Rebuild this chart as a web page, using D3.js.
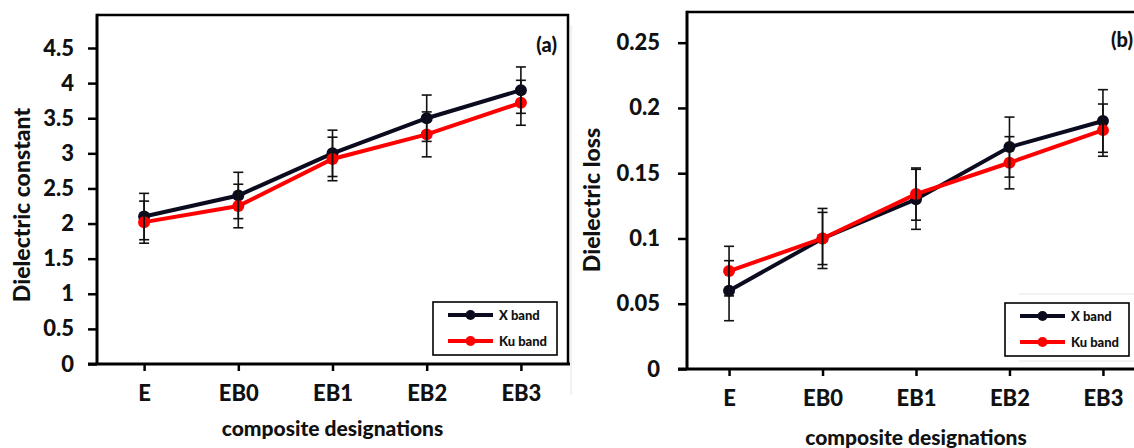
<!DOCTYPE html>
<html>
<head>
<meta charset="utf-8">
<script src="https://cdn.jsdelivr.net/npm/d3@7"></script>
<style>
	body { margin: 0; background: #fff; }
	text { font-family: Lato, "Open Sans", sans-serif; font-weight: 900; fill: #111; }
</style>
</head>
<body>
<div id="chart"></div>
<script>
// categories shared by both panels
var categories = ["E", "EB0", "EB1", "EB2", "EB3"];
var seriesNames = ["X band", "Ku band"];

// panel (a) dielectric constant
var constX = [2.1, 2.4, 3.0, 3.5, 3.9];
var constXErr = [0.33, 0.33, 0.33, 0.33, 0.33];
var constKu = [2.02, 2.25, 2.92, 3.27, 3.72];
var constKuErr = [0.3, 0.31, 0.31, 0.32, 0.32];
var constTicks = [0, 0.5, 1, 1.5, 2, 2.5, 3, 3.5, 4, 4.5];

// panel (b) dielectric loss
var lossX = [0.06, 0.1, 0.13, 0.17, 0.19];
var lossXErr = [0.023, 0.023, 0.023, 0.023, 0.024];
var lossKu = [0.075, 0.1, 0.134, 0.158, 0.183];
var lossKuErr = [0.019, 0.02, 0.02, 0.02, 0.02];
var lossTicks = [0, 0.05, 0.1, 0.15, 0.2, 0.25];

var colors = ["#0b0b20", "#ff0000"];

var width = 1134, height = 448;

var svg = d3.select('#chart').append('svg')
	.attr('width', width)
	.attr('height', height);

// faint separator seen between the two panels
svg.append('line')
	.attr('x1', 571).attr('x2', 571)
	.attr('y1', 25).attr('y2', 395)
	.attr('stroke', '#e4e4e4').attr('stroke-width', 1);

function drawPanel(p) {
	var g = svg.append('g');

	var x = d3.scalePoint()
		.domain(categories)
		.range([p.left, p.right])
		.padding(p.pad);

	var y = d3.scaleLinear()
		.domain([0, p.yMax])
		.range([p.bottom, p.top]);

	// plot frame (top and right)
	g.append('path')
		.attr('d', 'M' + p.left + ',' + p.top + 'H' + p.frameRight + 'V' + p.bottom)
		.attr('fill', 'none')
		.attr('stroke', '#000')
		.attr('stroke-width', 2.5);

	// y axis
	var yAxis = d3.axisLeft(y)
		.tickValues(p.ticks)
		.tickSize(9)
		.tickPadding(p.tickPad)
		.tickFormat(function(d) { return String(+d.toFixed(3)); });

	var ya = g.append('g')
		.attr('transform', 'translate(' + p.left + ',0)')
		.call(yAxis);
	ya.select('.domain').remove();
	ya.selectAll('.tick line').attr('stroke', '#000').attr('stroke-width', 2.5);
	ya.selectAll('.tick text').style('font-size', '22px').attr('fill', '#111');
	g.append('line')
		.attr('x1', p.left).attr('x2', p.left)
		.attr('y1', p.top - 1.2).attr('y2', p.bottom)
		.attr('stroke', '#000').attr('stroke-width', 3);

	// x axis
	var xAxis = d3.axisBottom(x)
		.tickSize(7)
		.tickPadding(14);
	var xa = g.append('g')
		.attr('transform', 'translate(0,' + p.bottom + ')')
		.call(xAxis);
	xa.select('.domain').remove();
	xa.selectAll('.tick line').attr('stroke', '#000').attr('stroke-width', 2.5);
	xa.selectAll('.tick text').style('font-size', '22px').attr('fill', '#111');
	g.append('line')
		.attr('x1', p.left - 9).attr('x2', p.axisRight)
		.attr('y1', p.bottom).attr('y2', p.bottom)
		.attr('stroke', '#000').attr('stroke-width', 3);

	// axis titles
	g.append('text')
		.attr('transform', 'translate(' + p.yTitleX + ',' + p.yTitleY + ') rotate(-90)')
		.attr('text-anchor', 'middle')
		.style('font-size', '23px')
		.text(p.yTitle);

	g.append('text')
		.attr('x', x(categories[2]))
		.attr('y', p.xTitleY)
		.attr('text-anchor', 'middle')
		.style('font-size', '21px')
		.text('composite designations');

	// panel tag
	g.append('text')
		.attr('x', p.tagX)
		.attr('y', p.tagY)
		.attr('text-anchor', 'end')
		.style('font-size', '20px')
		.text(p.tag);

	var line = d3.line()
		.x(function(d, i) { return x(categories[i]); })
		.y(function(d) { return y(d); });

	p.series.forEach(function(s, k) {
		g.append('path')
			.datum(s.values)
			.attr('d', line)
			.attr('fill', 'none')
			.attr('stroke', colors[k])
			.attr('stroke-width', 4);

		g.selectAll('.dot' + k)
			.data(s.values)
			.enter().append('circle')
			.attr('cx', function(d, i) { return x(categories[i]); })
			.attr('cy', function(d) { return y(d); })
			.attr('r', 6)
			.attr('fill', colors[k]);
	});

	// error bars on top
	p.series.forEach(function(s) {
		var eb = g.selectAll(null)
			.data(s.values)
			.enter().append('g')
			.attr('stroke', '#111')
			.attr('stroke-width', 1.6);
		eb.append('line')
			.attr('x1', function(d, i) { return x(categories[i]); })
			.attr('x2', function(d, i) { return x(categories[i]); })
			.attr('y1', function(d, i) { return y(d + s.err[i]); })
			.attr('y2', function(d, i) { return y(d - s.err[i]); });
		[1, -1].forEach(function(sign) {
			eb.append('line')
				.attr('x1', function(d, i) { return x(categories[i]) - 5; })
				.attr('x2', function(d, i) { return x(categories[i]) + 5; })
				.attr('y1', function(d, i) { return y(d + sign * s.err[i]); })
				.attr('y2', function(d, i) { return y(d + sign * s.err[i]); });
		});
	});

	// legend
	var lg = g.append('g').attr('transform', 'translate(' + p.legX + ',' + p.legY + ')');
	if (p.legFaint) {
		lg.append('line').attr('x1', 14).attr('x2', 140).attr('y1', -9).attr('y2', -9)
			.attr('stroke', '#e6e6e6').attr('stroke-width', 1);
		lg.append('line').attr('x1', 14).attr('x2', 140).attr('y1', 58).attr('y2', 58)
			.attr('stroke', '#e6e6e6').attr('stroke-width', 1);
	}
	lg.append('rect')
		.attr('width', 124)
		.attr('height', 53)
		.attr('fill', '#fff')
		.attr('stroke', '#000')
		.attr('stroke-width', 1.6);
	seriesNames.forEach(function(name, k) {
		var ly = 13 + k * 26;
		lg.append('line')
			.attr('x1', 15).attr('x2', 60)
			.attr('y1', ly).attr('y2', ly)
			.attr('stroke', colors[k]).attr('stroke-width', 4);
		lg.append('circle')
			.attr('cx', 37.5).attr('cy', ly).attr('r', 5)
			.attr('fill', colors[k]);
		lg.append('text')
			.attr('x', 66).attr('y', ly + 5)
			.style('font-size', '13px')
			.text(name);
	});
}

drawPanel({
	left: 97, right: 568, frameRight: 568, axisRight: 570,
	top: 15, bottom: 364, pad: 0.5,
	yMax: 4.97, ticks: constTicks, tickPad: 14,
	yTitle: 'Dielectric constant', yTitleX: 30, yTitleY: 205,
	xTitleY: 436,
	tag: '(a)', tagX: 557, tagY: 52,
	legX: 433, legY: 302, legFaint: false,
	series: [
		{ values: constX, err: constXErr },
		{ values: constKu, err: constKuErr }
	]
});

drawPanel({
	left: 687, right: 1145, frameRight: 1140, axisRight: 1134,
	top: 12, bottom: 369, pad: 0.45,
	yMax: 0.2735, ticks: lossTicks, tickPad: 18,
	yTitle: 'Dielectric loss', yTitleX: 600, yTitleY: 200,
	xTitleY: 445,
	tag: '(b)', tagX: 1133, tagY: 47,
	legX: 1005, legY: 303, legFaint: true,
	series: [
		{ values: lossX, err: lossXErr },
		{ values: lossKu, err: lossKuErr }
	]
});
</script>
</body>
</html>
